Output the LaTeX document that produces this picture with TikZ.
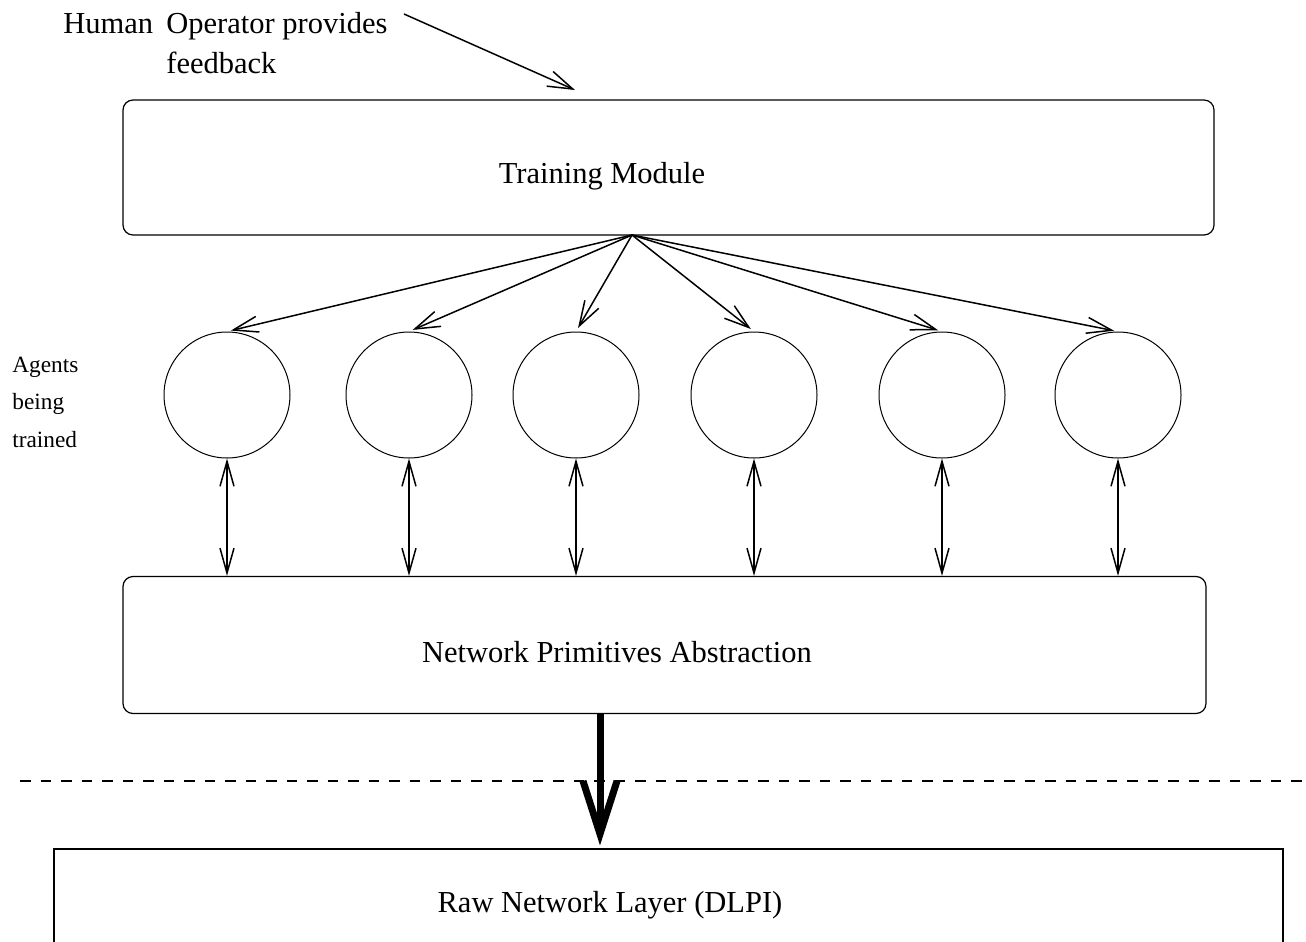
\documentclass[tikz,border=0pt]{standalone}
\usepackage{fontspec}
\setmainfont{Liberation Serif}
\usetikzlibrary{arrows.meta}
\begin{document}
\begin{tikzpicture}[x=0.5pt,y=-0.5pt,
  lbl/.style={inner sep=0pt, anchor=base west, font=\fontsize{15.25pt}{18pt}\selectfont},
  ctr/.style={inner sep=0pt, anchor=base, font=\fontsize{15.25pt}{18pt}\selectfont},
  small/.style={inner sep=0pt, anchor=base west, font=\fontsize{11.65pt}{14pt}\selectfont},
  rbox/.style={draw, line width=0.6pt, rounded corners=5pt, inner sep=0pt},
  agent/.style={draw, circle, line width=0.5pt, minimum size=63pt, inner sep=0pt},
  arr/.style={line width=0.75pt, -{Straight Barb[length=12.5pt,width=8pt,sharp]}},
  dbl/.style={line width=0.75pt, {Straight Barb[length=12.5pt,width=7pt,sharp]}-{Straight Barb[length=12.5pt,width=7pt,sharp]}},
  thick arrow/.style={line width=3.5pt, miter limit=10},
]
\useasboundingbox (0,0) rectangle (1306,942);

% texts at top
\node[lbl] (human) at (63,33) {Human};
\node[lbl] (op) at (166,33) {Operator provides};
\node[lbl] (fb) at (166,73) {feedback};

% training module
\node[rbox, minimum width=545.5pt, minimum height=67.5pt] (tm) at (668.5,167.5) {};
\node[ctr] (tmtext) at (602,183) {Training Module};

\coordinate (hstart) at (404,14);
\coordinate (hend) at (575,90);
\draw[arr] (hstart) -- (hend);

% agents label
\node[small] (ag1) at (12,372) {Agents};
\node[small] (ag2) at (12,409.5) {being};
\node[small] (ag3) at (12,447) {trained};

% agents
\node[agent] (c1) at (227,395) {};
\node[agent] (c2) at (409,395) {};
\node[agent] (c3) at (576,395) {};
\node[agent] (c4) at (754,395) {};
\node[agent] (c5) at (942,395) {};
\node[agent] (c6) at (1118,395) {};

% NPA box
\node[rbox, minimum width=541.5pt, minimum height=68.5pt] (npa) at (664.5,645) {};
\node[ctr] (npatext) at (617,662) {Network Primitives Abstraction};

% fan arrows
\coordinate (fan) at (632,235);
\foreach \c in {c1,c2,c3,c4,c5,c6}{
  \draw[arr, shorten >=2pt] (fan) -- (\c.north);
}

% double arrows
\foreach \c in {c1,c2,c3,c4,c5,c6}{
  \draw[dbl] (\c.south) -- (\c.south |- npa.north);
}

% dashed separator
\draw[line width=0.65pt, dash pattern=on 5.25pt off 5pt] (20,781) -- (1306,781);

% raw network layer (open at bottom)
\draw[line width=0.6pt] (54,942) -- (54,849) -- (1283,849) -- (1283,942);
\node[ctr] (raw) at (610,912) {Raw Network Layer (DLPI)};

% thick arrow
\coordinate (tip) at (600,834);
\coordinate (hl) at (583,781);
\coordinate (hr) at (617,781);
\draw[thick arrow] (npa.south -| tip) -- (tip);
\draw[thick arrow] (hl) -- (tip) -- (hr);
\end{tikzpicture}
\end{document}
